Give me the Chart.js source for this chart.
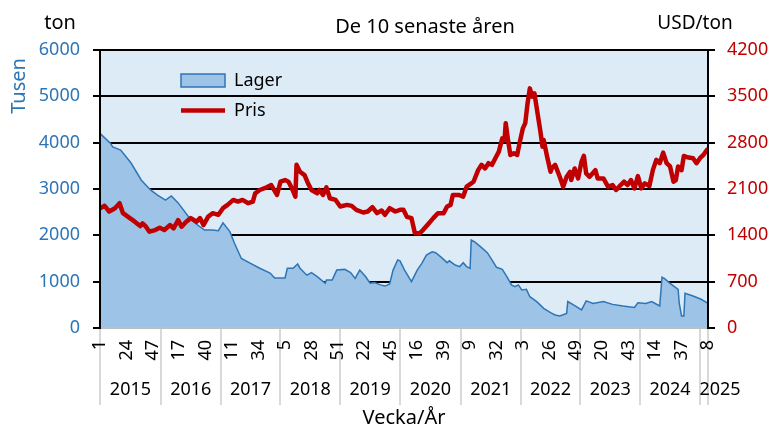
<!DOCTYPE html>
<html>
<head>
<meta charset="utf-8">
<title>Lager och pris</title>
<script src="https://cdn.jsdelivr.net/npm/chart.js@4.4.1/dist/chart.umd.min.js"></script>
<style>
  html, body { margin: 0; padding: 0; background: #fff; }
  #wrap { width: 773px; height: 433px; }
</style>
</head>
<body>
<div id="wrap"><canvas id="chart" width="773" height="433"></canvas></div>
<script>
// Veckoindex: 0 = vecka 1 2015 ... 529 = vecka 8 2025
const years = ['2015', '2016', '2017', '2018', '2019', '2020', '2021', '2022', '2023', '2024', '2025'];
const yearStart = [0, 53, 105, 157, 209, 261, 314, 366, 418, 470, 522];
const lastWeek = 529;
const weekTicks = [0, 23, 46, 69, 92, 115, 138, 161, 184, 207, 230, 253, 276, 299, 322, 345, 368, 391, 414, 437, 460, 483, 506, 529];

// Lager, tusen ton (avläst)
const lagerWeek = [0, 9, 11, 18, 27, 36, 44, 50, 57, 62, 68, 77, 85, 91, 98, 103, 107, 113, 117, 123,
  131, 139, 148, 152, 161, 163, 168, 172, 174, 180, 184, 189, 196, 197, 202, 206, 213, 218, 222, 226,
  231, 235, 239, 244, 248, 252, 255, 259, 261, 265, 271, 276, 280, 284, 289, 292, 297, 302, 304, 309,
  313, 316, 319, 322, 323, 326, 331, 337, 341, 345, 350, 354, 358, 361, 364, 367, 371, 374, 380, 386,
  392, 396, 400, 406, 407, 412, 419, 423, 429, 438, 446, 455, 465, 468, 475, 480, 487, 489, 491, 496,
  503, 504, 506, 508, 509, 516, 523, 529];
const lagerTon = [4200, 3990, 3910, 3840, 3560, 3190, 2980, 2870, 2760, 2850, 2700, 2400, 2220, 2115, 2115, 2100, 2270, 2080, 1830, 1500,
  1395, 1290, 1185, 1080, 1080, 1290, 1290, 1380, 1290, 1140, 1195, 1110, 965, 1035, 1035, 1250, 1265, 1195, 1070, 1250,
  1110, 965, 980, 930, 905, 950, 1250, 1470, 1450, 1250, 1000, 1250, 1395, 1575, 1645, 1625, 1525, 1410, 1450, 1360,
  1325, 1410, 1325, 1290, 1900, 1860, 1755, 1625, 1470, 1310, 1265, 1110, 930, 890, 930, 820, 835, 675, 570, 425,
  330, 280, 260, 315, 570, 500, 390, 585, 530, 570, 510, 475, 445, 545, 530, 570, 475, 1095, 1070, 965,
  835, 530, 260, 260, 750, 690, 620, 530];

// Pris, USD/ton (avläst)
const prisWeek = [0, 4, 8, 13, 17, 20, 26, 30, 35, 37, 40, 43, 48, 52, 56, 61, 64, 68, 71, 75,
  79, 84, 87, 90, 94, 98, 103, 107, 111, 116, 120, 124, 129, 133, 135, 139, 145, 149, 154, 157,
  161, 164, 167, 170, 171, 174, 178, 181, 184, 189, 191, 194, 197, 200, 205, 209, 215, 219, 223, 229,
  233, 237, 241, 245, 248, 252, 257, 261, 264, 267, 271, 274, 278, 281, 286, 290, 294, 299, 302, 305,
  307, 312, 316, 319, 325, 329, 332, 335, 338, 341, 344, 347, 350, 352, 353, 355, 357, 360, 363, 365,
  368, 370, 372, 374, 376, 378, 380, 383, 385, 386, 389, 392, 393, 396, 400, 403, 406, 409, 410, 413,
  416, 419, 421, 423, 426, 431, 433, 438, 442, 446, 449, 453, 456, 459, 462, 465, 468, 471, 474, 478,
  481, 484, 487, 490, 493, 496, 499, 501, 503, 506, 508, 511, 516, 519, 522, 525, 528, 529];
const prisUsd = [1810, 1845, 1760, 1810, 1885, 1735, 1660, 1610, 1540, 1580, 1530, 1455, 1480, 1515, 1480, 1555, 1505, 1630, 1530, 1605,
  1660, 1605, 1660, 1555, 1680, 1735, 1710, 1810, 1860, 1935, 1910, 1935, 1885, 1910, 2035, 2085, 2125, 2160, 2010, 2210,
  2235, 2210, 2110, 1985, 2465, 2360, 2310, 2185, 2085, 2035, 2085, 2010, 2125, 1960, 1935, 1835, 1860, 1845, 1785, 1745,
  1760, 1825, 1735, 1775, 1710, 1810, 1760, 1785, 1785, 1680, 1660, 1430, 1430, 1480, 1580, 1660, 1735, 1735, 1835, 1860,
  2010, 2010, 1985, 2135, 2210, 2385, 2465, 2410, 2490, 2465, 2565, 2665, 2865, 2840, 3095, 2840, 2615, 2640, 2615, 2790,
  3020, 3095, 3395, 3620, 3495, 3545, 3320, 2990, 2740, 2840, 2590, 2360, 2410, 2465, 2285, 2135, 2285, 2360, 2235, 2410,
  2260, 2515, 2600, 2335, 2285, 2385, 2260, 2260, 2135, 2160, 2085, 2160, 2210, 2160, 2235, 2110, 2295, 2110, 2185, 2145,
  2385, 2540, 2490, 2650, 2490, 2440, 2210, 2235, 2440, 2385, 2600, 2580, 2565, 2490, 2565, 2615, 2690, 2700];

const BLUE = '#2E75B6';
const RED = '#C00000';
const FONT = "'Noto Sans', sans-serif";

Chart.defaults.font.family = FONT;
Chart.defaults.color = '#000';

function toXY(xs, ys) {
  return xs.map((x, i) => ({ x: x, y: ys[i] }));
}

// tick -> veckonummer inom året
function weekLabel(idx) {
  let y = 0;
  while (y + 1 < yearStart.length && yearStart[y + 1] <= idx) y++;
  return String(idx - yearStart[y] + 1);
}

// årsetiketten mitt i året, sista (ofullständiga) året lite till höger
const yearMid = yearStart.map((s, i) => i + 1 < yearStart.length ? (s + yearStart[i + 1]) / 2 : lastWeek + 10.5);
const yearBounds = yearStart.concat([lastWeek]);

const decor = {
  id: 'decor',
  afterLayout(chart) {
    // legenden inne i diagramytan
    const a = chart.chartArea;
    chart.legend.left = a.left + 69;
    chart.legend.top = a.top + 9.5;
  },
  beforeDraw(chart) {
    const { ctx, chartArea } = chart;
    ctx.save();
    ctx.fillStyle = '#DDEBF7';
    ctx.fillRect(chartArea.left, chartArea.top, chartArea.right - chartArea.left, chartArea.bottom - chartArea.top);
    // avgränsare mellan åren under x-axeln
    const x = chart.scales.x;
    ctx.strokeStyle = '#D9D9D9';
    ctx.lineWidth = 2;
    yearBounds.forEach(b => {
      const px = Math.round(x.getPixelForValue(b));
      ctx.beginPath();
      ctx.moveTo(px, chartArea.bottom);
      ctx.lineTo(px, 405);
      ctx.stroke();
    });
    ctx.restore();
  },
  afterDraw(chart) {
    const ctx = chart.ctx;
    ctx.save();
    ctx.fillStyle = '#000';
    ctx.textBaseline = 'alphabetic';
    ctx.textAlign = 'center';
    ctx.font = '20px ' + FONT;
    ctx.fillText('De 10 senaste åren', 425, 32.5);
    ctx.fillText('ton', 60, 29);
    ctx.font = '19px ' + FONT;
    ctx.fillText('USD/ton', 695, 29);
    // vänster axeltitel
    ctx.translate(25, 86);
    ctx.rotate(-Math.PI / 2);
    ctx.fillStyle = BLUE;
    ctx.font = '20px ' + FONT;
    ctx.fillText('Tusen', 0, 0);
    ctx.restore();
  }
};

new Chart(document.getElementById('chart'), {
  type: 'line',
  data: {
    datasets: [
      {
        label: 'Lager',
        data: toXY(lagerWeek, lagerTon),
        xAxisID: 'x',
        yAxisID: 'y',
        borderColor: BLUE,
        borderWidth: 1.5,
        backgroundColor: '#9DC3E6',
        fill: 'origin',
        pointRadius: 0,
        pointStyle: 'rect',
        tension: 0,
        order: 2
      },
      {
        label: 'Pris',
        data: toXY(prisWeek, prisUsd),
        xAxisID: 'x',
        yAxisID: 'y1',
        borderColor: RED,
        backgroundColor: RED,
        borderWidth: 4.5,
        borderJoinStyle: 'round',
        pointRadius: 0,
        pointStyle: 'line',
        fill: false,
        tension: 0,
        order: 1
      }
    ]
  },
  options: {
    responsive: false,
    animation: false,
    layout: { padding: { top: 50, left: 0, right: 0, bottom: 0 } },
    plugins: {
      legend: {
        position: 'chartArea',
        align: 'start',
        labels: {
          usePointStyle: true,
          pointStyleWidth: 44,
          boxHeight: 13,
          padding: 12,
          color: '#000',
          font: { size: 18 },
          sort: (a, b) => a.datasetIndex - b.datasetIndex
        }
      },
      tooltip: { enabled: false }
    },
    scales: {
      x: {
        type: 'linear',
        position: 'bottom',
        min: 0,
        max: lastWeek,
        weight: 0,
        afterBuildTicks: s => { s.ticks = weekTicks.map(v => ({ value: v })); },
        afterFit: s => { s.height = 40; },
        ticks: {
          autoSkip: false,
          minRotation: 90,
          maxRotation: 90,
          padding: 12,
          color: '#000',
          font: { size: 18 },
          callback: v => weekLabel(v)
        },
        grid: { drawOnChartArea: false, drawTicks: false },
        border: { color: '#BFBFBF', width: 2, z: 1 }
      },
      years: {
        type: 'linear',
        position: 'bottom',
        min: 0,
        max: lastWeek,
        weight: 1,
        afterBuildTicks: s => { s.ticks = yearMid.map(v => ({ value: v })); },
        afterFit: s => { s.height = 65; },
        ticks: {
          autoSkip: false,
          maxRotation: 0,
          padding: 11,
          color: '#000',
          font: { size: 18 },
          callback: (v, i) => years[i]
        },
        grid: { display: false, drawTicks: false },
        border: { display: false },
        title: { display: true, text: 'Vecka/År', color: '#000', font: { size: 20 }, padding: { top: 0, bottom: 3 } }
      },
      y: {
        position: 'left',
        min: 0,
        max: 6000,
        afterFit: s => { s.width = 100; },
        ticks: { stepSize: 1000, padding: 13, color: BLUE, font: { size: 18 }, callback: v => String(v) },
        grid: {
          color: c => c.tick && c.tick.value === 0 ? 'rgba(0,0,0,0)' : '#000',
          tickColor: '#000',
          lineWidth: 2,
          tickLength: 7
        },
        border: { color: '#000', width: 2, z: 1 }
      },
      y1: {
        position: 'right',
        min: 0,
        max: 4200,
        afterFit: s => { s.width = 65; },
        ticks: { stepSize: 700, padding: 12, color: RED, font: { size: 18 }, callback: v => String(v) },
        grid: { drawOnChartArea: false, color: '#000', lineWidth: 2, tickLength: 7 },
        border: { color: '#000', width: 2, z: 1 }
      }
    }
  },
  plugins: [decor]
});
</script>
</body>
</html>
